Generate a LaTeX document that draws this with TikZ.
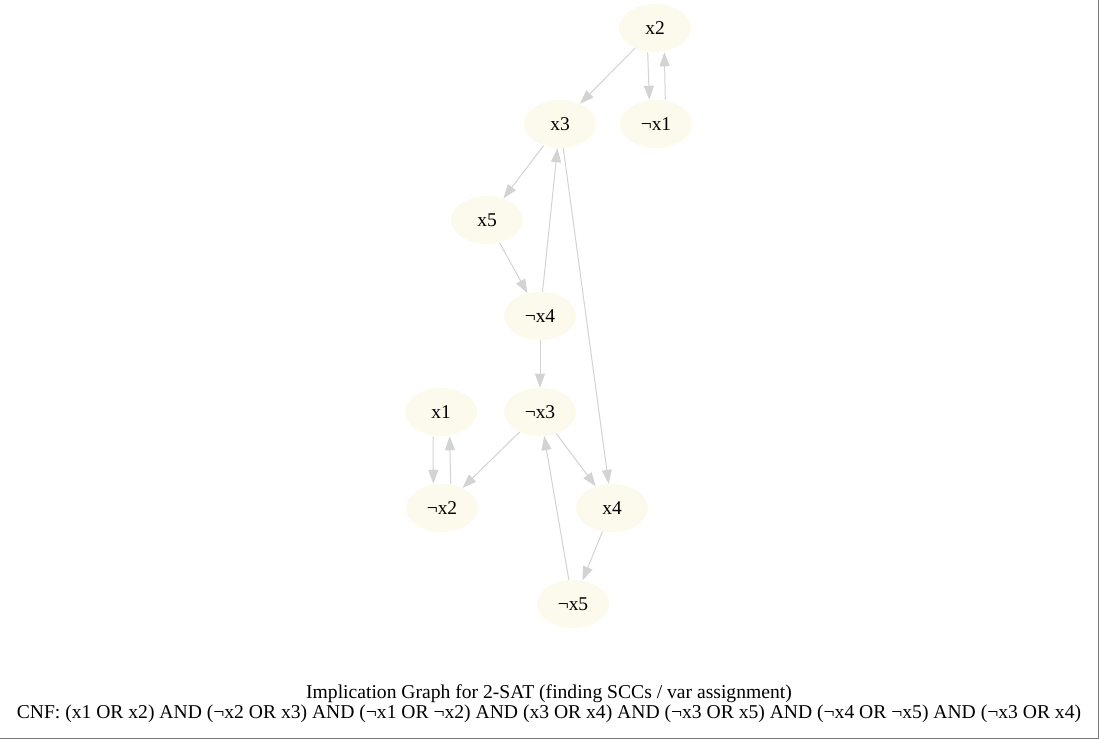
\documentclass[tikz,border=0pt]{standalone}
\usepackage{fontspec}
\setmainfont{Liberation Serif}
\usepackage{tikz}
\usetikzlibrary{arrows.meta, shapes.geometric}

\definecolor{litnode}{RGB}{252,249,237}
\definecolor{impedge}{RGB}{211,211,211}
\definecolor{frameline}{RGB}{120,120,120}

\tikzset{
  lit/.style={ellipse, fill=litnode, minimum width=54pt, minimum height=36pt,
    inner sep=0pt, font=\fontsize{14.6}{15}\selectfont},
  imp/.style={draw=impedge, line width=0.75pt,
    -{Triangle[length=10.5pt, width=7.5pt, fill=impedge]}}
}

\begin{document}
\begin{tikzpicture}[x=0.75pt, y=-0.75pt]
        \useasboundingbox (0, 0) rectangle (1099, 739);
        \draw[frameline, line width=0.9pt] (1098.4, 0) -- (1098.4, 738.4) -- (0, 738.4);

        \node[lit] (x2) at (655, 28) {x2};
        \node[lit] (x3) at (560, 124) {x3};
        \node[lit] (nx1) at (656, 124) {¬x1};
        \node[lit] (x5) at (487, 220) {x5};
        \node[lit] (nx4) at (540, 316) {¬x4};
        \node[lit] (x1) at (441, 412) {x1};
        \node[lit] (nx3) at (540, 412) {¬x3};
        \node[lit] (nx2) at (442, 508) {¬x2};
        \node[lit] (x4) at (612, 508) {x4};
        \node[lit] (nx5) at (573, 604) {¬x5};

        \draw[imp] (x2) -- (x3);
        \draw[imp] ([xshift=-5.5pt]x2.south) -- ([xshift=-5pt]nx1.north);
        \draw[imp] ([xshift=7pt]nx1.north) -- ([xshift=7pt]x2.south);
        \draw[imp] (x3) -- (x5);
        \draw[imp] (x5) -- (nx4);
        \draw[imp] (nx4) -- (x3);
        \draw[imp] (x3) -- (x4);
        \draw[imp] (nx4) -- (nx3);
        \draw[imp] ([xshift=-6pt]x1.south) -- ([xshift=-6.5pt]nx2.north);
        \draw[imp] ([xshift=6.5pt]nx2.north) -- ([xshift=6.5pt]x1.south);
        \draw[imp] (nx3) -- (nx2);
        \draw[imp] (nx3) -- (x4);
        \draw[imp] (x4) -- (nx5);
        \draw[imp] (nx5) -- (nx3);

        \node[font=\fontsize{14.7}{15}\selectfont, align=center, inner sep=0pt] (title) at (549, 704)
          {Implication Graph for 2-SAT (finding SCCs / var assignment)\\
           CNF: (x1 OR x2) AND (¬x2 OR x3) AND (¬x1 OR ¬x2) AND (x3 OR x4) AND (¬x3 OR x5) AND (¬x4 OR ¬x5) AND (¬x3 OR x4)};
      \end{tikzpicture}
\end{document}
